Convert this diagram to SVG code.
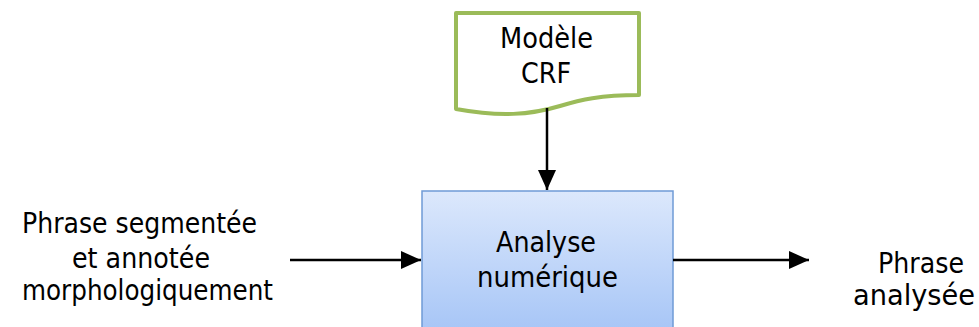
<svg xmlns="http://www.w3.org/2000/svg" width="979" height="327" viewBox="0 0 979 327">
<style>
text{font-family:"DejaVu Sans",Verdana,sans-serif;font-size:27.5px;fill:#000;text-anchor:start}
.c{stroke:#000;stroke-width:2.5;fill:none}
</style>
<defs>
<linearGradient id="g" x1="0" y1="0" x2="0" y2="1">
<stop offset="0" stop-color="#dce8fc"/>
<stop offset="1" stop-color="#a3c3f6"/>
</linearGradient>
<marker id="ah" markerWidth="20" markerHeight="18" refX="20" refY="9" orient="auto" markerUnits="userSpaceOnUse">
<path d="M0,0L20,9L0,18z" fill="#000"/>
</marker>
</defs>
<g id="modele">
<path d="M456,13H639V95C600,95 580,100 560,106C530,115 500,117 456,109Z" fill="#fff" stroke="#9bbb59" stroke-width="4" stroke-linejoin="round"/>
<text x="500" y="48" textLength="93" lengthAdjust="spacingAndGlyphs">Modèle</text>
<text x="521" y="83" textLength="50" lengthAdjust="spacingAndGlyphs">CRF</text>
</g>
<g id="analyse">
<rect x="422" y="191" width="251" height="150" fill="url(#g)" stroke="#6f9bd6" stroke-width="1.5"/>
<text x="496" y="252" textLength="100" lengthAdjust="spacingAndGlyphs">Analyse</text>
<text x="477" y="287" textLength="141" lengthAdjust="spacingAndGlyphs">numérique</text>
</g>
<g id="entree">
<text x="22" y="233" textLength="235" lengthAdjust="spacingAndGlyphs">Phrase segmentée</text>
<text x="72" y="268" textLength="138" lengthAdjust="spacingAndGlyphs">et annotée</text>
<text x="22" y="300" textLength="251" lengthAdjust="spacingAndGlyphs">morphologiquement</text>
</g>
<g id="sortie">
<text x="878" y="273" textLength="86" lengthAdjust="spacingAndGlyphs">Phrase</text>
<text x="853" y="305" textLength="122" lengthAdjust="spacingAndGlyphs">analysée</text>
</g>
<g id="connectors">
<line class="c" x1="547" y1="108" x2="547" y2="190" marker-end="url(#ah)"/>
<line class="c" x1="290" y1="260" x2="421" y2="260" marker-end="url(#ah)"/>
<line class="c" x1="673" y1="260" x2="809" y2="260" marker-end="url(#ah)"/>
</g>
</svg>
